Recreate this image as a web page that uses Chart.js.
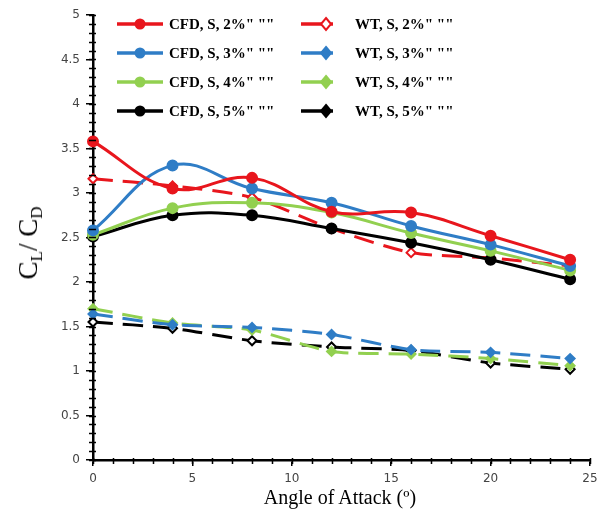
<!DOCTYPE html>
<html lang="en">
<head>
<meta charset="utf-8">
<title>CL/CD vs Angle of Attack</title>
<script src="https://cdn.jsdelivr.net/npm/chart.js"></script>
<style>
    html, body { margin: 0; padding: 0; background: #fff; }
    #wrap { position: relative; width: 607px; height: 522px; }
    #chart { position: absolute; left: 0; top: 0; }
    .ytitle { position: absolute; left: 30px; top: 243px; transform: translate(-50%, -50%) rotate(-90deg);
              font-family: "Liberation Serif", "Times New Roman", serif; font-size: 27px; color: #000; white-space: nowrap; }
    .ytitle sub { font-size: 17px; vertical-align: -5px; }
    .xtitle { position: absolute; left: 340px; top: 497px; transform: translate(-50%, -50%);
              font-family: "Liberation Serif", "Times New Roman", serif; font-size: 20px; color: #000; white-space: nowrap; }
    .leg { position: absolute; height: 20px; display: flex; align-items: center;
           font-family: "Liberation Serif", "Times New Roman", serif; font-weight: bold; font-size: 15px; color: #000; white-space: nowrap; }
    .leg svg { display: block; margin-right: 5px; }
</style>
</head>
<body>
<div id="wrap">
    <canvas id="chart" width="607" height="522"></canvas>
    <div class="ytitle">C<sub>L</sub>/ C<sub>D</sub></div>
    <div class="xtitle">Angle of Attack (º)</div>
    <div id="legend"></div>
</div>
<script>
// angle of attack (deg)
const angles = [0, 4, 8, 12, 16, 20, 24];

// CFD results
const cfd2 = [3.58, 3.05, 3.17, 2.79, 2.78, 2.52, 2.25];
const cfd3 = [2.58, 3.31, 3.05, 2.89, 2.63, 2.42, 2.18];
const cfd4 = [2.53, 2.83, 2.89, 2.78, 2.55, 2.35, 2.13];
const cfd5 = [2.51, 2.75, 2.75, 2.60, 2.44, 2.25, 2.03];

// wind tunnel results
const wt2 = [3.16, 3.08, 2.95, 2.60, 2.33, 2.27, 2.18];
const wt3 = [1.64, 1.52, 1.49, 1.41, 1.24, 1.21, 1.14];
const wt4 = [1.70, 1.54, 1.46, 1.22, 1.19, 1.14, 1.06];
const wt5 = [1.55, 1.48, 1.34, 1.27, 1.23, 1.09, 1.02];

const xTicks = [0, 5, 10, 15, 20, 25];
const yTicks = [0, 0.5, 1, 1.5, 2, 2.5, 3, 3.5, 4, 4.5, 5];

const RED = '#e8161d', BLUE = '#2f7dc6', GREEN = '#92d050', BLACK = '#000000';

const pts = vals => angles.map((a, i) => ({ x: a, y: vals[i] }));

function cfdSet(label, vals, color) {
    return {
        label, data: pts(vals), borderColor: color, backgroundColor: color,
        borderWidth: 3, tension: 0.4, pointStyle: 'circle', pointRadius: 4.5,
        pointBackgroundColor: color, pointBorderColor: color, clip: false, order: 1
    };
}
function wtSet(label, vals, color, hollow) {
    return {
        label, data: pts(vals), borderColor: color, backgroundColor: color,
        borderWidth: 3, borderDash: [20, 10], tension: 0.25, pointStyle: 'rectRot', pointRadius: 4.5,
        pointBorderWidth: 2, pointBackgroundColor: hollow ? '#fff' : color, pointBorderColor: color,
        clip: false, order: 2
    };
}

const datasets = [
    cfdSet('CFD, S, 2%" ""', cfd2, RED),
    cfdSet('CFD, S, 3%" ""', cfd3, BLUE),
    cfdSet('CFD, S, 4%" ""', cfd4, GREEN),
    cfdSet('CFD, S, 5%" ""', cfd5, BLACK),
    wtSet('WT, S, 2%" ""', wt2, RED, true),
    wtSet('WT, S, 3%" ""', wt3, BLUE, false),
    wtSet('WT, S, 4%" ""', wt4, GREEN, false),
    wtSet('WT, S, 5%" ""', wt5, BLACK, true)
];

// minor tick marks on both axes
const minorTicks = {
    id: 'minorTicks',
    afterDraw(chart) {
        const { ctx, scales: { x, y } } = chart;
        ctx.save();
        ctx.strokeStyle = '#000';
        ctx.lineWidth = 1.5;
        ctx.beginPath();
        for (let v = 0; v <= 5.0001; v += 0.1) {
            const py = Math.round(y.getPixelForValue(v)) + 0.5;
            ctx.moveTo(x.left - 4, py);
            ctx.lineTo(x.left + 3, py);
        }
        for (let v = 0; v <= 25; v += 1) {
            const px = Math.round(x.getPixelForValue(v)) + 0.5;
            ctx.moveTo(px, y.bottom - 2);
            ctx.lineTo(px, y.bottom + 4);
        }
        ctx.stroke();
        ctx.restore();
    }
};

const tickFont = { family: 'DejaVu Sans', size: 12 };

new Chart(document.getElementById('chart'), {
    type: 'line',
    data: { datasets },
    options: {
        responsive: false,
        animation: false,
        layout: { padding: { top: 15, right: 17, left: 0, bottom: 0 } },
        plugins: { legend: { display: false }, tooltip: { enabled: false } },
        scales: {
            x: {
                type: 'linear', min: 0, max: 25,
                afterFit: s => { s.height = 62; },
                afterBuildTicks: s => { s.ticks = xTicks.map(v => ({ value: v })); },
                grid: { drawOnChartArea: false, drawTicks: true, tickLength: 6, color: '#000', lineWidth: 1.5 },
                border: { color: '#000', width: 2.5 },
                ticks: { padding: 6, color: '#444', font: tickFont, callback: v => String(v) }
            },
            y: {
                type: 'linear', min: 0, max: 5,
                afterFit: s => { s.width = 93; },
                afterBuildTicks: s => { s.ticks = yTicks.map(v => ({ value: v })); },
                grid: { drawOnChartArea: false, drawTicks: true, tickLength: 7, color: '#000', lineWidth: 1.5 },
                border: { color: '#000', width: 2.5 },
                ticks: { padding: 6, color: '#444', font: tickFont, callback: v => String(v) }
            }
        }
    },
    plugins: [minorTicks]
});

// legend drawn as html, two columns inside the plot area
const legend = document.getElementById('legend');
datasets.forEach((d, i) => {
    const col = i < 4 ? 0 : 1;
    const row = i % 4;
    const isWT = col === 1;
    const w = isWT ? 34 : 48;
    const mx = isWT ? 26 : 24;
    const marker = isWT
        ? `<polygon points="${mx},4 ${mx + 5},10 ${mx},16 ${mx - 5},10" fill="${i === 4 ? '#fff' : d.borderColor}" stroke="${d.borderColor}" stroke-width="2"/>`
        : `<circle cx="${mx}" cy="10" r="5.5" fill="${d.borderColor}"/>`;
    const el = document.createElement('div');
    el.className = 'leg';
    el.style.left = (isWT ? 300 : 116) + 'px';
    el.style.top = (14 + row * 29) + 'px';
    el.innerHTML = `<svg width="${w}" height="20"><line x1="1" y1="10" x2="${w - 1}" y2="10" stroke="${d.borderColor}" stroke-width="3.5"/>${marker}</svg>` +
        `<span style="margin-left:${isWT ? 16 : 0}px">${d.label}</span>`;
    legend.appendChild(el);
});
</script>
</body>
</html>
